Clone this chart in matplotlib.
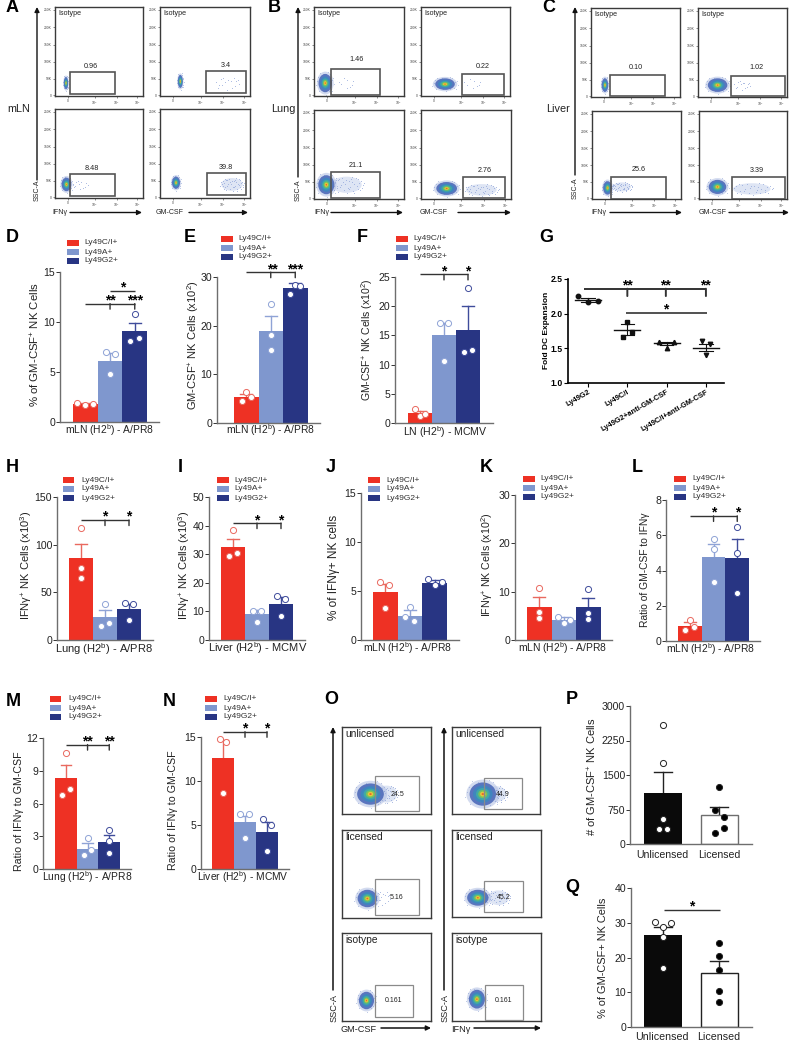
import matplotlib
matplotlib.use('Agg')
import matplotlib.pyplot as plt
from matplotlib.patches import Ellipse, Rectangle, FancyArrowPatch

plt.rcParams['font.family'] = ['Liberation Sans', 'DejaVu Sans']
plt.rcParams['mathtext.fontset'] = 'custom'
plt.rcParams['mathtext.rm'] = 'Liberation Sans'
plt.rcParams['mathtext.default'] = 'regular'

W, H = 790, 1041
RED, BLUE, NAVY = '#EE3124', '#7F97CE', '#283583'
RED_E, BLUE_E, NAVY_E = '#E9695F', '#8FA3D6', '#3F4C9B'
GREY = '#6E6E6E'

groups = ['Ly49C/I+', 'Ly49A+', 'Ly49G2+']

# bar panels: means, upper error, points, point x offsets
d_vals = [1.8, 6.1, 9.1]
d_errs = [1.9, 6.9, 9.95]
d_pts = [[1.9, 1.75, 1.8], [7.0, 6.8, 4.8], [10.8, 8.1, 8.4]]
d_off = [[-.32, 0, .32], [-.18, .19, 0], [0, -.18, .19]]

e_vals = [5.4, 19.0, 27.8]
e_errs = [6.0, 21.9, 28.8]
e_pts = [[6.4, 4.5, 5.3], [24.5, 18.0, 15.0], [28.3, 28.1, 26.6]]
e_off = [[0, -.18, .2], [0, 0, 0], [0, .2, -.2]]

f_vals = [1.7, 15.0, 16.0]
f_errs = [2.1, 17.2, 20.0]
f_pts = [[2.4, 1.2, 1.6], [17.2, 17.2, 10.6], [23.2, 12.1, 12.5]]
f_off = [[-.2, -.02, .2], [-.18, .18, 0], [0, -.18, .17]]

g_labels = ['Ly49G2', 'Ly49C/I', 'Ly49G2+anti-GM-CSF', 'Ly49C/I+anti-GM-CSF']
g_means = [2.2, 1.77, 1.57, 1.51]
g_errs = [0.03, 0.08, 0.02, 0.05]
g_pts = [[2.25, 2.17, 2.18], [1.88, 1.74, 1.66], [1.59, 1.59, 1.51], [1.6, 1.56, 1.41]]
g_off = [[-.25, 0, .25], [0, .12, -.12], [-.2, .2, 0], [-.1, .1, 0]]
g_marks = ['o', 's', '^', 'v']

h_vals = [86, 24, 32.5]
h_errs = [101, 31, 37.5]
h_pts = [[117, 76, 65], [38, 18, 14.7], [38.7, 38, 21]]
h_off = [[0, 0, 0], [0, .18, -.18], [-.15, .18, 0]]

i_vals = [32.5, 9.0, 12.5]
i_errs = [35.4, 10.5, 15.0]
i_pts = [[38.3, 29.2, 30.5], [10.2, 10.0, 6.3], [15.3, 14.5, 8.5]]
i_off = [[0, -.18, .18], [-.15, .18, 0], [-.18, .15, 0]]

j_vals = [4.9, 2.5, 5.85]
j_errs = [5.7, 3.1, 6.1]
j_pts = [[5.9, 5.6, 3.3], [3.4, 2.3, 1.9], [6.2, 5.9, 5.6]]
j_off = [[-.2, .17, 0], [0, -.18, .18], [-.25, .3, 0]]

k_vals = [6.9, 4.2, 6.8]
k_errs = [8.9, 4.7, 8.7]
k_pts = [[10.7, 5.8, 4.5], [4.8, 4.2, 3.6], [10.5, 5.5, 4.3]]
k_off = [[0, 0, 0], [-.25, .25, 0], [0, 0, 0]]

l_vals = [0.85, 4.75, 4.7]
l_errs = [1.1, 5.5, 5.8]
l_pts = [[1.2, .6, .8], [5.76, 5.2, 3.35], [6.45, 5.0, 2.7]]
l_off = [[0, -.2, .18], [0, 0, 0], [0, 0, 0]]

m_vals = [8.3, 1.87, 2.5]
m_errs = [9.5, 2.4, 3.15]
m_pts = [[10.6, 7.3, 6.8], [2.85, 1.7, 1.26], [3.6, 2.6, 1.44]]
m_off = [[0, .17, -.2], [0, .18, -.18], [0, 0, 0]]

n_vals = [12.6, 5.3, 4.2]
n_errs = [14.7, 6.0, 5.3]
n_pts = [[14.8, 14.4, 8.6], [6.25, 6.2, 3.5], [5.7, 5.0, 2.0]]
n_off = [[-.15, .15, 0], [-.22, .2, 0], [-.17, .17, 0]]

p_labels = ['Unlicensed', 'Licensed']
p_vals = [1113, 622]
p_errs = [1576, 802]
p_pts = [[2588, 1764, 542, 332, 332], [1236, 730, 578, 340, 238]]
p_off = [[0, 0, 0, -.11, .11], [0, -.11, .11, .11, -.11]]

q_vals = [26.4, 15.6]
q_errs = [28.9, 18.9]
q_pts = [[30.3, 28.7, 30.0, 26.0, 16.9], [24.3, 20.3, 16.4, 10.4, 7.3]]
q_off = [[-.22, 0, .22, 0, 0], [0, 0, 0, 0, 0]]

# flow plots: gate x0,x1,y0,y1 / gate value / main blob x,y,rx,ry / tail x,y,rx,ry,count
a_flow = [
    ('0.96', (.17, .68, 5, 70), (.41, 87), (.125, 38, .025, 18), None),
    ('3.4', (.51, .95, 8, 73), (.73, 91), (.226, 43, .028, 19), (.74, 38, .15, 22, 16)),
    ('8.48', (.17, .68, 7, 71), (.415, 87), (.13, 40, .055, 20), (.28, 40, .1, 15, 12)),
    ('39.8', (.52, .955, 9, 74), (.73, 91), (.178, 45, .045, 18), (.80, 40, .14, 22, 40)),
]
b_flow = [
    ('1.46', (.19, .73, 3, 80), (.47, 106), (.125, 38, .075, 27), (.36, 40, .1, 20, 8)),
    ('0.22', (.465, .93, 4, 66), (.69, 86), (.27, 35, .11, 17), (.58, 38, .12, 15, 8)),
    ('21.1', (.19, .73, 2, 79), (.46, 98), (.137, 42, .09, 28), (.36, 42, .2, 28, 40)),
    ('2.76', (.47, .93, 2, 66), (.71, 85), (.285, 31, .115, 19), (.67, 27, .2, 20, 40)),
]
c_flow = [
    ('0.10', (.217, .83, 4, 65), (.5, 88), (.157, 35, .037, 20), None),
    ('1.02', (.375, .975, 2, 63), (.66, 88), (.22, 35, .11, 20), (.49, 35, .1, 15, 14)),
    ('25.6', (.216, .835, 1, 65), (.53, 88), (.175, 33, .05, 20), (.335, 36, .12, 16, 40)),
    ('3.39', (.373, .973, 1, 66), (.66, 86), (.21, 36, .1, 21), (.6, 30, .25, 20, 30)),
]
o_flow = [
    ('24.5', (.37, .86, 8, 114), (.62, 60), (.32, 60, .15, 32), (.5, 60, .14, 30, 40), 'unlicensed'),
    ('44.9', (.368, .80, 14, 108), (.58, 60), (.35, 60, .15, 35), (.5, 60, .14, 28, 40), 'unlicensed'),
    ('5.16', (.37, .86, 10, 115), (.61, 62), (.285, 58, .11, 26), (.45, 60, .1, 25, 16), 'licensed'),
    ('45.2', (.36, .80, 16, 108), (.58, 60), (.29, 58, .12, 24), (.52, 58, .14, 26, 40), 'licensed'),
    ('0.161', (.37, .80, 13, 107), (.58, 60), (.275, 61, .085, 26), None, 'isotype'),
    ('0.161', (.368, .80, 3, 108), (.58, 60), (.28, 65, .09, 28), None, 'isotype'),
]

# hand placed offsets for the sparse events of the flow plots
speck_x = [.12, -.55, .71, -.23, .38, -.81, .05, .62, -.44, .91, -.09, -.67, .29, .83, -.36, .52, -.92, .17,
           -.58, .44, -.15, .74, -.74, .33, -.29, .58, -.03, .96, -.49, .22, -.85, .67, .08, -.62, .41, -.19,
           .87, -.39, .26, -.7]
speck_y = [.4, -.3, .22, .71, -.62, .12, -.88, -.41, .55, -.08, .12, -.6, .33, .37, -.25, .7, -.17, -.4,
           .76, .05, -.55, -.6, .44, .85, .02, -.13, .48, .18, -.77, -.2, .38, .59, -.35, .18, -.82, .28,
           -.3, .6, .6, -.18]
blob_cols = ['#5A75BE', '#3F86BE', '#3FA9A6', '#79C25C', '#E8C63A', '#E9672E']
blob_size = [1, .74, .52, .35, .21, .09]

fig = plt.figure(figsize=(W / 100, H / 100), dpi=100)


def px_ax(l, t, r, b):
    return fig.add_axes([l / W, 1 - b / H, (r - l) / W, (b - t) / H])


def px_text(x, y, s, **kw):
    kw.setdefault('ha', 'center')
    kw.setdefault('va', 'center')
    fig.text(x / W, 1 - y / H, s, **kw)


def arrow(x0, y0, x1, y1, lw=1.0):
    fig.add_artist(FancyArrowPatch(
        (x0 / W, 1 - y0 / H), (x1 / W, 1 - y1 / H), transform=fig.transFigure,
        arrowstyle='-|>', mutation_scale=7, lw=lw, color='#111111', shrinkA=0, shrinkB=0))


def legend(x, y, tx, size=6.0):
    for i, (name, col) in enumerate(zip(groups, [RED, BLUE, NAVY])):
        fig.add_artist(Rectangle((x / W, 1 - (y + 9 * i + 3) / H), 11.5 / W, 6 / H,
                                 transform=fig.transFigure, color=col, lw=0))
        px_text(tx, y + 9 * i, name, ha='left', fontsize=size, color='#333333')


def sig_lines(ax, lines, star=10, lw=1.0):
    for y, x0, x1, drops, drop_px, stars in lines:
        ax.plot([x0, x1], [y, y], color='#333333', lw=lw, clip_on=False, solid_capstyle='butt')
        for d in drops:
            ax.annotate('', xy=(d, y), xytext=(0, -drop_px), textcoords='offset points', annotation_clip=False,
                        arrowprops=dict(arrowstyle='-', color='#333333', lw=lw, shrinkA=0, shrinkB=0))
        for sx, s in stars:
            ax.annotate(s, xy=(sx, y), xytext=(0, 2.2), textcoords='offset points', ha='center', annotation_clip=False,
                        va='center', fontsize=star, fontweight='bold', color='black')


def bar_panel(box, left, width, ymax, yticks, vals, errs, pts, off, ylabel, ylab_xy, xlabel=None, xlab_xy=None,
              sig=(), cols=(RED, BLUE, NAVY), edges=(RED_E, BLUE_E, NAVY_E), faces=None, step=1.0,
              size=7.6, labsize=7.4, ysize=7.6):
    l, t, r, b = box
    ax = px_ax(l, t, r, b)
    pos = [i * step for i in range(len(vals))]
    faces = faces or ['white'] * len(vals)
    c0 = left + width / 2
    ax.set_xlim((l - c0) / width, (r - c0) / width)
    ax.set_ylim(0, ymax)
    ax.bar(pos, vals, width=1, color=cols, lw=0, zorder=2)
    for p, v, e, col, edge, ys, dx, face in zip(pos, vals, errs, cols, edges, pts, off, faces):
        ax.plot([p, p], [v, e], color=edge, lw=1.0, zorder=1.5)
        ax.plot([p - .24, p + .24], [e, e], color=edge, lw=1.0, zorder=1.5)
        ax.plot([p + d for d in dx], ys, 'o', ms=4.4, mfc=face, mec=edge, mew=0.7, clip_on=False, zorder=4)
    for s in ['top', 'right']:
        ax.spines[s].set_visible(False)
    for s in ['left', 'bottom']:
        ax.spines[s].set_color(GREY)
        ax.spines[s].set_linewidth(1.0)
    ax.set_xticks([])
    ax.set_yticks(yticks)
    ax.tick_params(axis='y', labelsize=size, length=3, width=0.7, pad=0.5, color='#333333', labelcolor='#222222')
    ax.patch.set_alpha(0)
    px_text(ylab_xy[0], ylab_xy[1], ylabel, rotation=90, fontsize=ysize, color='#222222')
    if xlabel:
        px_text(xlab_xy[0], xlab_xy[1], xlabel, fontsize=labsize, color='#222222')
    sig_lines(ax, sig)
    return ax


def draw_blob(ax, blob, tail):
    if tail is not None:
        tx, ty, trx, try_, n = tail
        if n >= 30:
            ax.add_patch(Ellipse((tx, ty), 1.7 * trx, 1.7 * try_, color='#C9D4EE', alpha=0.6, lw=0, zorder=1))
        ax.plot([tx + trx * a for a in speck_x[:n]], [ty + try_ * a for a in speck_y[:n]], ls='', marker='s',
                ms=0.6, mfc='#8DA2D8', mec='none', zorder=2)
    x, y, rx, ry = blob
    ax.add_patch(Ellipse((x, y), 2.5 * rx, 2.5 * ry, color='#A9B8E0', alpha=0.5, lw=0, zorder=2))
    ax.plot([x + 1.45 * rx * a for a in speck_x[:24]], [y + 1.45 * ry * a for a in speck_y[:24]], ls='', marker='s',
            ms=0.5, mfc='#7C93CC', mec='none', zorder=2)
    for f, c in zip(blob_size, blob_cols):
        ax.add_patch(Ellipse((x, y), 2 * rx * f, 2 * ry * f, color=c, lw=0, zorder=3))


def flow_panel(box, spec, show_title=None, ticks=True, val_size=5.2):
    l, t, r, b = box
    ax = px_ax(l, t, r, b)
    ax.set_xlim(0, 1)
    ax.set_ylim(0, 262)
    label, gate, lab_xy, blob, tail = spec[:5]
    x0, x1, y0, y1 = gate
    draw_blob(ax, blob, tail)
    ax.add_patch(Rectangle((x0, y0), x1 - x0, y1 - y0, fc='none', ec='#555555' if ticks else '#8A8A8A',
                           lw=1.2 if ticks else 0.9, zorder=5))
    ax.text(lab_xy[0], lab_xy[1], label, ha='center', va='center', fontsize=val_size, color='#222222', zorder=6)
    for s in ax.spines.values():
        s.set_linewidth(1.0)
        s.set_color('#3A3A3A')
    if ticks:
        ax.set_xticks([.147, .45, .70, .936])
        ax.set_xticklabels(['0', '$10^3$', '$10^4$', '$10^5$'])
        ax.set_yticks([2, 51, 101, 151, 202, 254])
        ax.set_yticklabels(['0', '50K', '100K', '150K', '200K', '250K'])
        ax.tick_params(labelsize=2.4, length=1.5, width=0.4, pad=0.8, color='#333333', labelcolor='#444444')
    else:
        ax.set_xticks([])
        ax.set_yticks([])
    if show_title:
        ax.text(.04, .925, show_title, transform=ax.transAxes, ha='left', va='center',
                fontsize=5.1 if ticks else 7.4, color='#222222')
    return ax


# panel letters
for s, x, y in [('A', 12, 7), ('B', 274, 7), ('C', 549, 7), ('D', 12, 237), ('E', 190, 237), ('F', 362, 237),
                ('G', 546, 237), ('H', 12, 468), ('I', 180, 468), ('J', 331, 468), ('K', 486, 468), ('L', 637, 468),
                ('M', 13, 701), ('N', 169, 701), ('O', 331, 700), ('P', 572, 700), ('Q', 572, 887)]:
    px_text(x, y, s, fontsize=13, fontweight='bold', color='black')

# top flow rows
boxes_a = [(55, 7, 143, 96), (160, 7, 250, 96), (55, 109, 143, 198), (160, 109, 250, 198)]
boxes_b = [(314, 7, 404, 96), (421, 7, 510, 96), (314, 110, 404, 199), (421, 110, 511, 199)]
boxes_c = [(591, 8, 680, 97), (698, 8, 787, 97), (592, 111, 681, 199), (699, 111, 787, 199)]
for boxes, flows in [(boxes_a, a_flow), (boxes_b, b_flow), (boxes_c, c_flow)]:
    for k, (box, spec) in enumerate(zip(boxes, flows)):
        flow_panel(box, spec, 'Isotype' if k < 2 else None)

for x, y_arrow, y_lab, ifn_x, ifn0, ifn1, gm_x, gm0, gm1, tis, tis_x in [
        (37, 180, 190, 60, 70, 142, 170, 189, 248, 'mLN', 19),
        (298, 177, 190, 322, 331, 403, 434, 458, 511, 'Lung', 283),
        (575, 175, 188, 599, 610, 682, 713, 729, 789, 'Liver', 558)]:
    arrow(x, y_arrow, x, 7)
    px_text(x, y_lab, 'SSC-A', rotation=90, fontsize=5, color='#222222')
    px_text(ifn_x, 212, 'IFNγ', fontsize=5, color='#222222')
    arrow(ifn0, 212.5, ifn1, 212.5)
    px_text(gm_x, 212, 'GM-CSF', fontsize=5, color='#222222')
    arrow(gm0, 212.5, gm1, 212.5)
    px_text(tis_x, 109, tis, fontsize=7.8, color='#222222')

# row D-F
lab_d = r'mLN (H2$^{\mathrm{b}}$) - A/PR8'
lab_m = r'Lung (H2$^{\mathrm{b}}$) - A/PR8'
lab_l = r'Liver (H2$^{\mathrm{b}}$) - MCMV'
bar_panel((60, 272, 159, 422), 73, 24.7, 15, [0, 5, 10, 15], d_vals, d_errs, d_pts, d_off,
          r'% of GM-CSF$^{+}$ NK Cells', (35, 345), lab_d, (110, 430), ysize=8.2,
          sig=[(11.84, 0, 2, [1, 2], 4, [(1.0, '**'), (2.02, '***')]), (13.1, 1, 2, [], 0, [(1.5, '*')])])
legend(67, 243, 84)
bar_panel((217, 277, 320, 423), 234, 24.5, 30, [0, 10, 20, 30], e_vals, e_errs, e_pts, e_off,
          r'GM-CSF$^{+}$ NK Cells (x10$^{2}$)', (193, 345), lab_d, (271, 430), ysize=8,
          sig=[(31, 0, 2, [1, 2], 4, [(1.07, '**'), (2.0, '***')])])
legend(221, 239, 238)
bar_panel((395, 277, 493, 423), 408, 24, 25, [0, 5, 10, 15, 20, 25], f_vals, f_errs, f_pts, f_off,
          r'GM-CSF$^{+}$ NK Cells (x10$^{2}$)', (367, 340), r'LN (H2$^{\mathrm{b}}$) - MCMV', (445, 432),
          sig=[(25.45, 0, 2, [1, 2], 4, [(1, '*'), (2, '*')])], labsize=7.6)
legend(396, 239, 413)

# panel G
ax_g = px_ax(568, 279, 724, 383)
ax_g.set_xlim(-.51, 3.46)
ax_g.set_ylim(1, 2.5)
for p, (m, e, ys, dx, mk) in enumerate(zip(g_means, g_errs, g_pts, g_off, g_marks)):
    ax_g.plot([p - .33, p + .33], [m, m], color='#111111', lw=1.0, zorder=3)
    ax_g.plot([p, p], [m - e, m + e], color='#111111', lw=0.8, zorder=3)
    for v in (m - e, m + e):
        ax_g.plot([p - .17, p + .17], [v, v], color='#111111', lw=0.8, zorder=3)
    ax_g.plot([p + d for d in dx], ys, ls='', marker=mk, ms=3.2, color='#111111', zorder=4)
for s in ['top', 'right']:
    ax_g.spines[s].set_visible(False)
for s in ['left', 'bottom']:
    ax_g.spines[s].set_linewidth(1.2)
ax_g.set_yticks([1, 1.5, 2, 2.5])
ax_g.set_yticklabels(['1.0', '1.5', '2.0', '2.5'], fontweight='bold', fontsize=6.2)
ax_g.set_xticks(range(4))
ax_g.set_xticklabels(g_labels, rotation=30, ha='right', rotation_mode='anchor', fontweight='bold', fontsize=5.4)
ax_g.tick_params(length=3, width=0.8, pad=1)
px_text(546, 330, 'Fold DC Expansion', rotation=90, fontsize=6, fontweight='bold')
sig_lines(ax_g, [(2.36, -.1, 3, [1, 1.98, 3], 5.3, [(1, '**'), (1.98, '**'), (2.98, '**')])], lw=1.4)
sig_lines(ax_g, [(2.01, .96, 3.02, [], 0, [(1.98, '*')])], lw=1.2)

# row H-L
bar_panel((57, 497, 153, 640), 69, 24, 150, [0, 50, 100, 150], h_vals, h_errs, h_pts, h_off,
          r'IFNγ$^{+}$ NK Cells (x10$^{3}$)', (26, 565), lab_m, (104, 649), labsize=8, ysize=8,
          sig=[(125.9, 0, 2, [1, 2], 4, [(1, '*'), (2, '*')])])
legend(63, 480, 81)
bar_panel((209, 497, 305, 640), 221, 24, 50, [0, 10, 20, 30, 40, 50], i_vals, i_errs, i_pts, i_off,
          r'IFNγ$^{+}$ NK Cells (x10$^{3}$)', (184, 565), lab_l, (258, 648), labsize=8, ysize=8,
          sig=[(40.9, 0, 2, [1, 2], 4, [(1, '*'), (2, '*')])])
legend(217, 480, 234)
bar_panel((361, 493, 459, 640), 373, 24.6, 15, [0, 5, 10, 15], j_vals, j_errs, j_pts, j_off,
          '% of IFNγ+ NK cells', (334, 567), lab_d, (408, 648), ysize=8.5)
legend(368, 480, 386)
bar_panel((515, 495, 612, 640), 527, 24.5, 30, [0, 10, 20, 30], k_vals, k_errs, k_pts, k_off,
          r'IFNγ$^{+}$ NK Cells (x10$^{2}$)', (487, 565), lab_d, (563, 648), ysize=7.7)
legend(523, 479, 540)
bar_panel((666, 500, 760, 641), 678, 23.7, 8, [0, 2, 4, 6, 8], l_vals, l_errs, l_pts, l_off,
          'Ratio of GM-CSF to IFNγ', (645, 570), lab_d, (711, 649), ysize=7.4,
          sig=[(7.1, 0, 2, [1, 2], 4, [(1, '*'), (2.03, '*')])])
legend(674, 479, 692)

# row M, N
bar_panel((43, 738, 131, 869), 55, 21.7, 12, [0, 3, 6, 9, 12], m_vals, m_errs, m_pts, m_off,
          'Ratio of IFNγ to GM-CSF', (19, 811), lab_m, (87, 877), ysize=7.7,
          sig=[(11.4, 0, 2, [1, 2], 4, [(1, '**'), (2.02, '**')])])
legend(50, 699, 68)
bar_panel((201, 737, 289, 869), 212, 22, 15, [0, 5, 10, 15], n_vals, n_errs, n_pts, n_off,
          'Ratio of IFNγ to GM-CSF', (173, 810), lab_l, (243, 877), ysize=7.7,
          sig=[(15.6, 0, 2, [1, 2], 4, [(1, '*'), (2, '*')])])
legend(205, 699, 223)

# panel O
boxes_o = [(342, 727, 431, 814), (452, 727, 540, 814), (342, 830, 431, 918), (452, 830, 541, 917),
           (342, 933, 431, 1021), (452, 933, 541, 1021)]
for box, spec in zip(boxes_o, o_flow):
    flow_panel(box, spec, spec[5], ticks=False, val_size=5)
for x, lab, lab_x, a0, a1 in [(333, 'GM-CSF', 359, 381, 431), (444, 'IFNγ', 461, 474, 541)]:
    arrow(x, 990, x, 727, lw=1.1)
    px_text(x + 1, 1008, 'SSC-A', rotation=90, fontsize=6.6, color='#222222')
    px_text(lab_x, 1029, lab, fontsize=6.6, color='#222222')
    arrow(a0, 1028, a1, 1028, lw=1.1)

# panels P, Q
ax_p = bar_panel((630, 706, 752, 844), 644, 37.5, 3000, [0, 750, 1500, 2250, 3000], p_vals, p_errs, p_pts, p_off,
                 r'# of GM-CSF$^{+}$ NK Cells', (592, 777), cols=('#0A0A0A', 'white'), edges=('#222222', '#222222'),
                 faces=['white', 'black'], step=1.51, ysize=8)
ax_p.patches[1].set_edgecolor(GREY)
ax_p.patches[1].set_linewidth(1.0)
px_text(662, 855, p_labels[0], fontsize=7.6, color='#222222')
px_text(719, 855, p_labels[1], fontsize=7.6, color='#222222')

ax_q = bar_panel((631, 888, 752, 1027), 644, 37.5, 40, [0, 10, 20, 30, 40], q_vals, q_errs, q_pts, q_off,
                 '% of GM-CSF+ NK Cells', (603, 958), cols=('#0A0A0A', 'white'), edges=('#222222', '#222222'),
                 faces=['white', 'black'], step=1.51, ysize=7.9, sig=[(33.7, .03, 1.53, [], 0, [(.78, '*')])])
ax_q.patches[1].set_edgecolor('#222222')
ax_q.patches[1].set_linewidth(1.0)
px_text(662, 1037, p_labels[0], fontsize=7.7, color='#222222')
px_text(719, 1037, p_labels[1], fontsize=7.7, color='#222222')

fig.savefig('out.png', dpi=100)
